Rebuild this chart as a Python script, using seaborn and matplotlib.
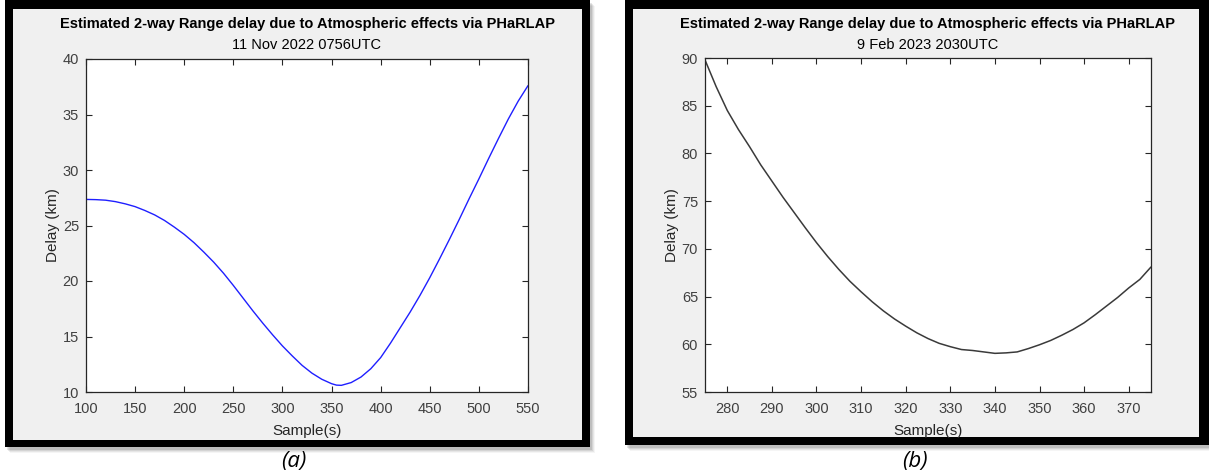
import numpy as np
import pandas as pd
import matplotlib
matplotlib.use("Agg")
import matplotlib.pyplot as plt
import seaborn as sns
from matplotlib.patches import Rectangle

# ---------------- data ----------------
title_main = "Estimated 2-way Range delay due to Atmospheric effects via PHaRLAP"
subtitle_a = "11 Nov 2022 0756UTC"
subtitle_b = "9 Feb 2023 2030UTC"
xlabel = "Sample(s)"
ylabel = "Delay (km)"
panel_labels = ["(a)", "(b)"]

samples_a = [100, 110, 120, 130, 140, 150, 160, 170, 180, 190, 200, 210, 220, 230, 240,
             250, 260, 270, 280, 290, 300, 310, 320, 330, 340, 350, 355, 360, 370, 380,
             390, 400, 410, 420, 430, 440, 450, 460, 470, 480, 490, 500, 510, 520, 530,
             540, 550]
delay_a = [27.35, 27.33, 27.28, 27.15, 26.95, 26.7, 26.35, 25.95, 25.45, 24.85, 24.2,
           23.45, 22.6, 21.7, 20.7, 19.6, 18.45, 17.3, 16.2, 15.15, 14.15, 13.25, 12.4,
           11.7, 11.15, 10.75, 10.62, 10.6, 10.85, 11.35, 12.1, 13.1, 14.4, 15.8, 17.2,
           18.7, 20.3, 22.0, 23.75, 25.55, 27.4, 29.2, 31.05, 32.85, 34.6, 36.2, 37.6]

samples_b = [275, 277.5, 280, 282.5, 285, 287.5, 290, 292.5, 295, 297.5, 300, 302.5,
             305, 307.5, 310, 312.5, 315, 317.5, 320, 322.5, 325, 327.5, 330, 332.5,
             335, 337.5, 340, 342.5, 345, 347.5, 350, 352.5, 355, 357.5, 360, 362.5,
             365, 367.5, 370, 372.5, 375]
delay_b = [89.8, 87.0, 84.5, 82.5, 80.7, 78.8, 77.1, 75.4, 73.8, 72.2, 70.65, 69.2,
           67.85, 66.6, 65.5, 64.45, 63.5, 62.65, 61.9, 61.2, 60.6, 60.1, 59.75, 59.45,
           59.35, 59.2, 59.05, 59.1, 59.2, 59.55, 59.95, 60.4, 60.95, 61.55, 62.25, 63.1,
           64.0, 64.9, 65.9, 66.8, 68.1]

xticks_a = [100, 150, 200, 250, 300, 350, 400, 450, 500, 550]
yticks_a = [10, 15, 20, 25, 30, 35, 40]
xticks_b = [280, 290, 300, 310, 320, 330, 340, 350, 360, 370]
yticks_b = [55, 60, 65, 70, 75, 80, 85, 90]

# ---------------- style ----------------
sns.set_theme(style="white")
plt.rcParams["font.family"] = ["Liberation Sans", "DejaVu Sans"]

W, H = 1209, 472
fig = plt.figure(figsize=(W / 100, H / 100), dpi=100)
fig.patch.set_facecolor("white")

def px_rect(x0, y0, x1, y1):
    return (x0 / W, 1 - y1 / H, (x1 - x0) / W, (y1 - y0) / H)

def add_frame(x0, y0, x1, y1, gx0, gy0, gx1, gy1):
    # soft shadow
    for i, a in enumerate([0.10, 0.08, 0.06, 0.04]):
        sx, sy, sw, sh = px_rect(x0 + 2 + i, y0 + 3 + i, x1 + 2 + i, y1 + 3 + i)
        fig.patches.append(Rectangle((sx, sy), sw, sh, transform=fig.transFigure,
                                     facecolor="black", alpha=a, edgecolor="none", zorder=0))
    bx, by, bw, bh = px_rect(x0, y0, x1, y1)
    fig.patches.append(Rectangle((bx, by), bw, bh, transform=fig.transFigure,
                                 facecolor="black", edgecolor="none", zorder=1))
    gx, gy, gw, gh = px_rect(gx0, gy0, gx1, gy1)
    fig.patches.append(Rectangle((gx, gy), gw, gh, transform=fig.transFigure,
                                 facecolor="#f0f0f0", edgecolor="none", zorder=2))

add_frame(5, 0, 590, 447, 13, 9, 582, 440)
add_frame(625, 0, 1209, 445, 633, 9, 1199, 437)

def make_axes(rect_px, xs, ys, color, lw, xticks, yticks, xlim, ylim, subtitle, lbl):
    x0, y0, x1, y1 = rect_px
    ax = fig.add_axes(px_rect(x0, y0, x1, y1))
    ax.set_zorder(10)
    ax.set_facecolor("white")
    df = pd.DataFrame({"Sample": xs, "Delay": ys})
    sns.lineplot(data=df, x="Sample", y="Delay", ax=ax, color=color, linewidth=lw)
    ax.set_xlim(*xlim)
    ax.set_ylim(*ylim)
    ax.set_xticks(xticks)
    ax.set_yticks(yticks)
    ax.tick_params(direction="in", length=4.5, width=0.8, colors="#262626",
                   labelsize=10.5, labelcolor="#404040",
                   top=True, right=True, bottom=True, left=True)
    ax.tick_params(axis="x", pad=7)
    ax.tick_params(axis="y", pad=5)
    for s in ax.spines.values():
        s.set_color("#262626")
        s.set_linewidth(0.9)
        s.set_visible(True)
    ax.set_xlabel(xlabel, fontsize=11, color="#262626", labelpad=6)
    ax.set_ylabel(ylabel, fontsize=11, color="#262626", labelpad=2)
    cx = (x0 + x1) / 2
    fig.text(cx / W, 1 - 24 / H, title_main, ha="center", va="center",
             fontsize=10.5, fontweight="bold", color="black", zorder=20)
    fig.text(cx / W, 1 - 45 / H, subtitle, ha="center", va="center",
             fontsize=10.5, color="black", zorder=20)
    fig.text(cx / W - 13 / W, 1 - 461 / H, lbl, ha="center", va="center",
             fontsize=16, style="italic", color="black", zorder=20,
             family=["Open Sans", "DejaVu Sans"])
    return ax

make_axes((86, 59, 528, 392), samples_a, delay_a, "#1f1fff", 1.0, xticks_a, yticks_a,
          (100, 550), (10, 40), subtitle_a, panel_labels[0])
make_axes((705, 58, 1151, 392), samples_b, delay_b, "#3a3a3a", 1.1, xticks_b, yticks_b,
          (275, 375), (55, 90), subtitle_b, panel_labels[1])

fig.savefig("out.png", dpi=100)
